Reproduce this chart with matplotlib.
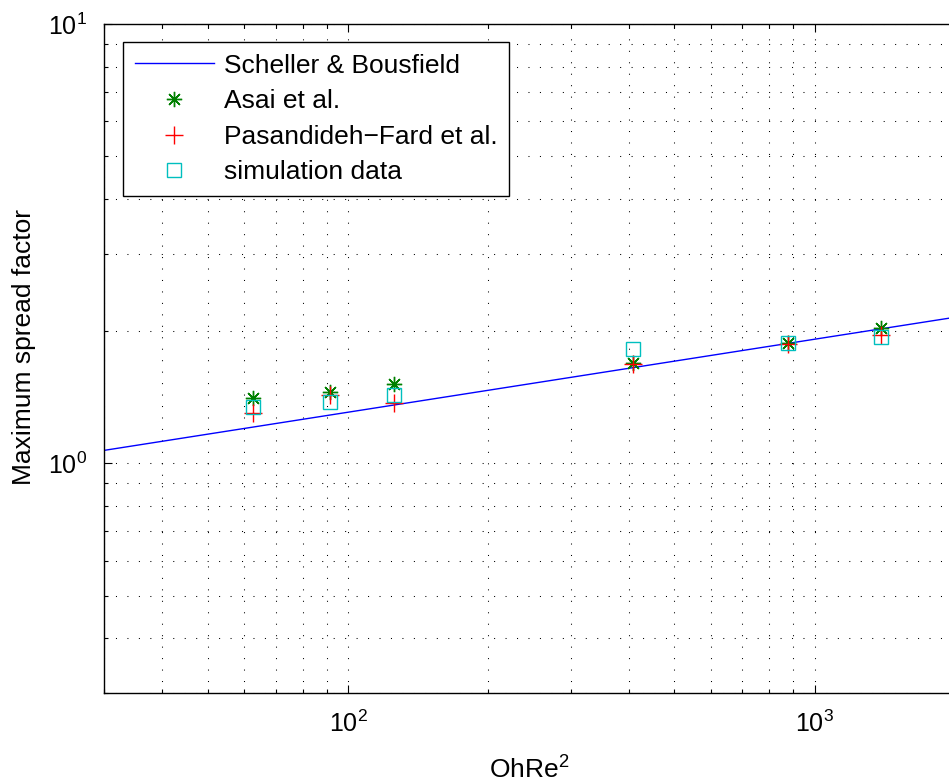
import matplotlib
matplotlib.use("Agg")
import matplotlib.pyplot as plt
from matplotlib.ticker import LogLocator, NullFormatter

# data
ohre2 = [62.5, 91.5, 125.3, 407.5, 877, 1387]
asai = [1.41, 1.454, 1.514, 1.696, 1.881, 2.037]
pasandideh = [1.305, 1.428, 1.375, 1.687, 1.866, 1.964]
simulation = [1.345, 1.379, 1.434, 1.825, 1.883, 1.940]

# Scheller & Bousfield line, end points
sb_x = [30, 2000]
sb_y = [1.07, 2.15]

x_limits = [30, 2000]
y_limits = [0.3, 10]
# -----------------------------------------------------------------------------|
def main():
    plt.rcParams["font.family"] = ["Liberation Sans", "DejaVu Sans"]
    plt.rcParams["mathtext.fontset"] = "custom"
    plt.rcParams["mathtext.rm"] = "Liberation Sans"
    plt.rcParams["mathtext.it"] = "Liberation Sans:italic"
    plt.rcParams["mathtext.bf"] = "Liberation Sans:bold"

    fig = plt.figure(figsize=(9.49, 7.83), dpi=100)
    # axes run a bit past the right edge, like the cropped original
    ax = fig.add_axes([104 / 949, 90 / 783, 851 / 949, 669 / 783])

    ax.plot(sb_x, sb_y, color="#0000ff", lw=1.0, label="Scheller & Bousfield")
    ax.plot(ohre2, asai, ls="none", marker=(8, 2, 0), ms=11, mew=1.0,
            color="#008000", label="Asai et al.")
    ax.plot(ohre2, pasandideh, ls="none", marker="+", ms=13, mew=1.0,
            color="#ff0000", label="Pasandideh\u2212Fard et al.")
    ax.plot(ohre2, simulation, ls="none", marker="s", ms=10, mew=1.0,
            mfc="none", mec="#00bfbf", label="simulation data")

    ax.set_xscale("log")
    ax.set_yscale("log")
    ax.set_xlim(x_limits)
    ax.set_ylim(y_limits)

    for axis in [ax.xaxis, ax.yaxis]:
        axis.set_major_locator(LogLocator(base=10))
        axis.set_minor_locator(LogLocator(base=10, subs=range(2, 10)))
        axis.set_minor_formatter(NullFormatter())

    ax.grid(True, which="both", color="black", lw=0.75, ls=(0, (1, 10)))
    ax.set_axisbelow(True)

    ax.tick_params(which="both", direction="in", top=True, right=False,
                   width=0.8)
    ax.tick_params(which="major", length=6, labelsize=18)
    ax.tick_params(axis="y", which="major", pad=12)
    ax.tick_params(axis="x", which="major", pad=13)
    ax.tick_params(which="minor", length=3)
    for s in ax.spines.values():
        s.set_linewidth(1.0)

    ax.set_xlabel("OhRe$^2$", fontsize=19)
    ax.set_ylabel("Maximum spread factor", fontsize=19)
    ax.xaxis.set_label_coords(0.5, -0.095)
    ax.yaxis.set_label_coords(-0.080, 0.517)

    leg = ax.legend(loc="upper left", bbox_to_anchor=(0.022, 0.9735),
                    borderaxespad=0, fontsize=19, fancybox=False,
                    framealpha=1, edgecolor="black", handlelength=3.0,
                    handletextpad=0.37, labelspacing=0.44, borderpad=0.45)
    leg.get_frame().set_linewidth(1.0)

    plt.savefig("out.png", dpi=100)
# -----------------------------------------------------------------------------|


if __name__ == '__main__':
    main()
